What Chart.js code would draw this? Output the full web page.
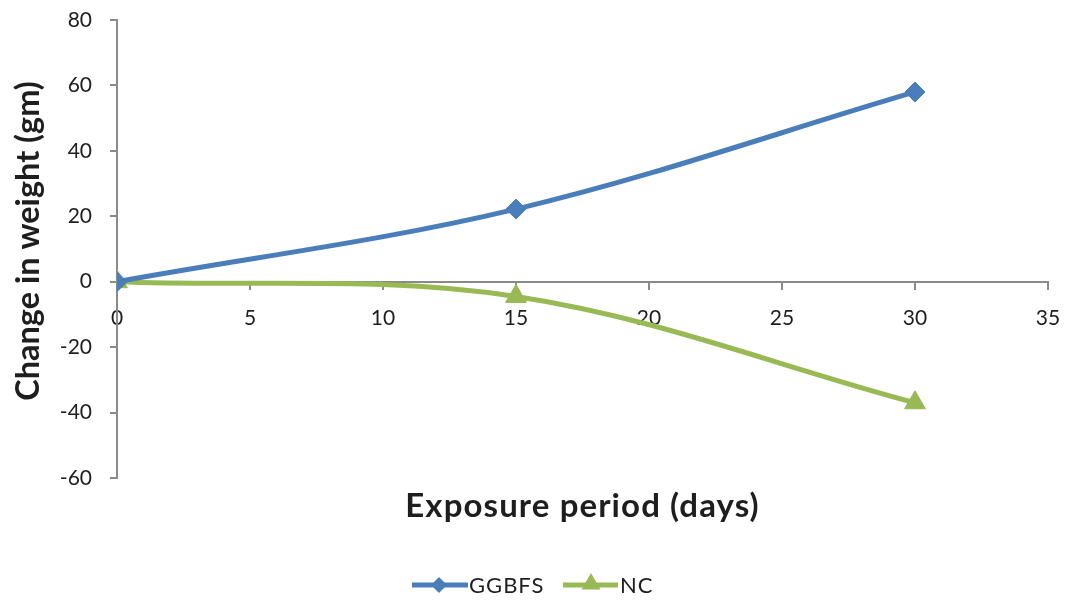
<!DOCTYPE html>
<html>
<head>
<meta charset="utf-8">
<script src="https://cdn.jsdelivr.net/npm/chart.js@4/dist/chart.umd.min.js"></script>
<style>
  html, body { margin: 0; padding: 0; background: #ffffff; }
  #wrap { position: relative; width: 1072px; height: 603px; }
</style>
</head>
<body>
<div id="wrap"><canvas id="chart" width="1072" height="603"></canvas></div>
<script>
// Exposure period (days)
const days = [0, 15, 30];
// Change in weight (gm) per series
const ggbfsValues = [0, 22.2, 58];
const ncValues = [0, -4.5, -37];
const seriesNames = ['GGBFS', 'NC'];
const xTicks = { min: 0, max: 35, step: 5 };
const yTicks = { min: -60, max: 80, step: 20 };
const xTitle = 'Exposure period (days)';
const yTitle = 'Change in weight (gm)';

const BLUE = '#4a7ebb';
const GREEN = '#98b954';
const AXIS = '#8a8a8a';
const TEXT = '#1e1e1e';
const FONT = 'Lato, "Open Sans", sans-serif';

const toPoints = vals => days.map((d, i) => ({ x: d, y: vals[i] }));

function diamond(ctx, x, y, r) {
  ctx.beginPath();
  ctx.moveTo(x - r, y); ctx.lineTo(x, y - r); ctx.lineTo(x + r, y); ctx.lineTo(x, y + r);
  ctx.closePath(); ctx.fill();
}
function triangle(ctx, x, y, r) {
  ctx.beginPath();
  ctx.moveTo(x, y - r);
  ctx.lineTo(x + r * Math.sin(Math.PI / 3), y + r / 2);
  ctx.lineTo(x - r * Math.sin(Math.PI / 3), y + r / 2);
  ctx.closePath(); ctx.fill();
}

// axis titles and the legend row under the plot
const annotations = {
  id: 'annotations',
  afterDraw(chart) {
    const ctx = chart.ctx;
    const area = chart.chartArea;
    ctx.save();
    ctx.fillStyle = TEXT;
    ctx.textAlign = 'center';
    ctx.textBaseline = 'alphabetic';
    ctx.font = 'bold 33px ' + FONT;
    ctx.letterSpacing = '1.1px';
    ctx.fillText(xTitle, (area.left + area.right) / 2, area.bottom + 39);
    ctx.letterSpacing = '0px';
    ctx.font = 'bold 32.5px ' + FONT;
    ctx.save();
    ctx.translate(39, (area.top + area.bottom) / 2 - 8);
    ctx.rotate(-Math.PI / 2);
    ctx.fillText(yTitle, 0, 0);
    ctx.restore();

    // legend
    const ly = 585;
    ctx.lineWidth = 5;
    ctx.font = '22px ' + FONT;
    ctx.letterSpacing = '1px';
    ctx.textAlign = 'left';
    ctx.textBaseline = 'middle';
    ctx.strokeStyle = BLUE; ctx.fillStyle = BLUE;
    ctx.beginPath(); ctx.moveTo(412, ly); ctx.lineTo(468, ly); ctx.stroke();
    diamond(ctx, 439, ly, 8);
    ctx.fillStyle = TEXT;
    ctx.fillText(seriesNames[0], 469, ly + 1);
    ctx.strokeStyle = GREEN; ctx.fillStyle = GREEN;
    ctx.beginPath(); ctx.moveTo(563, ly); ctx.lineTo(618, ly); ctx.stroke();
    triangle(ctx, 591, ly - 1, 11);
    ctx.fillStyle = TEXT;
    ctx.fillText(seriesNames[1], 620, ly + 1);
    ctx.restore();
  }
};

new Chart(document.getElementById('chart'), {
  type: 'line',
  data: {
    datasets: [
      {
        label: seriesNames[0],
        data: toPoints(ggbfsValues),
        borderColor: BLUE,
        backgroundColor: BLUE,
        borderWidth: 5,
        tension: 0.35,
        pointStyle: 'rectRot',
        pointRadius: 10,
        pointBorderWidth: 1,
        pointBorderColor: BLUE,
        pointBackgroundColor: BLUE
      },
      {
        label: seriesNames[1],
        data: toPoints(ncValues),
        borderColor: GREEN,
        backgroundColor: GREEN,
        borderWidth: 5,
        tension: 0.35,
        pointStyle: 'triangle',
        pointRadius: 12,
        pointBorderWidth: 1,
        pointBorderColor: GREEN,
        pointBackgroundColor: GREEN
      }
    ]
  },
  options: {
    responsive: false,
    animation: false,
    layout: { padding: { top: 20, bottom: 125, right: 24, left: 0 } },
    plugins: { legend: { display: false }, tooltip: { enabled: false } },
    scales: {
      x: {
        type: 'linear',
        position: { y: 0 },
        min: xTicks.min, max: xTicks.max,
        afterFit(scale) { scale.paddingLeft = 0; scale.paddingRight = 0; },
        ticks: { stepSize: xTicks.step, color: TEXT, font: { family: FONT, size: 21 }, padding: 17, maxRotation: 0 },
        grid: { drawOnChartArea: false, drawTicks: true, tickLength: 7, color: AXIS, lineWidth: 2 },
        border: { display: true, color: AXIS, width: 2 }
      },
      y: {
        type: 'linear',
        position: 'left',
        min: yTicks.min, max: yTicks.max,
        afterFit(scale) { scale.width = 117; scale.paddingTop = 0; scale.paddingBottom = 0; },
        ticks: { stepSize: yTicks.step, color: TEXT, font: { family: FONT, size: 21 }, padding: 18 },
        grid: { drawOnChartArea: false, drawTicks: true, tickLength: 7, color: AXIS, lineWidth: 2 },
        border: { display: true, color: AXIS, width: 2 }
      }
    }
  },
  plugins: [annotations]
});
</script>
</body>
</html>
